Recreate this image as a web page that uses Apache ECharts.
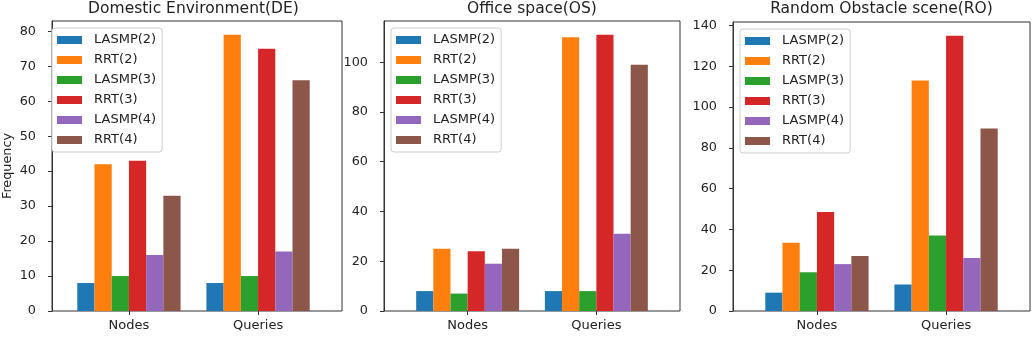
<!DOCTYPE html>
<html>
<head>
<meta charset="utf-8">
<script src="https://cdn.jsdelivr.net/npm/echarts@6/dist/echarts.min.js"></script>
<style>
  html, body { margin: 0; padding: 0; background: #fff; }
  #chart { width: 1034px; height: 341px; }
</style>
</head>
<body>
<div id="chart"></div>
<script>
const groups = ['Nodes', 'Queries'];
const seriesNames = ['LASMP(2)', 'RRT(2)', 'LASMP(3)', 'RRT(3)', 'LASMP(4)', 'RRT(4)'];
const colors = ['#1f77b4', '#ff7f0e', '#2ca02c', '#d62728', '#9467bd', '#8c564b'];

// one row per series: [Nodes, Queries]
const deValues = [[8, 8], [42, 79], [10, 10], [43, 75], [16, 17], [33, 66]];
const osValues = [[8, 8], [25, 110], [7, 8], [24, 111], [19, 31], [25, 99]];
const roValues = [[9, 13], [33.5, 113], [19, 37], [48.5, 135], [23, 26], [27, 89.5]];

const deTicks = [0, 10, 20, 30, 40, 50, 60, 70, 80];
const osTicks = [0, 20, 40, 60, 80, 100];
const roTicks = [0, 20, 40, 60, 80, 100, 120, 140];

const titles = ['Domestic Environment(DE)', 'Office space(OS)', 'Random Obstacle scene(RO)'];

const font = 'DejaVu Sans';
const ink = '#222';
const frame = '#333';

const panels = [
  {values: deValues, ticks: deTicks, left: 45, top: 21, width: 297, height: 290},
  {values: osValues, ticks: osTicks, left: 384, top: 21, width: 296, height: 290},
  {values: roValues, ticks: roTicks, left: 733, top: 22, width: 297, height: 289}
];

// x range of the matplotlib axes, in category units (centres at 0 and 1)
const xLo = -0.65, xHi = 1.65;

let chart = echarts.init(document.getElementById('chart'));

const option = {
  animation: false,
  color: colors,
  title: [],
  legend: [],
  grid: [],
  xAxis: [],
  yAxis: [],
  series: []
};

panels.forEach((p, k) => {
  const yMax = Math.max(...p.values.flat()) * 1.05;
  const unit = p.width / (xHi - xLo);
  const outer = 2 * k, inner = 2 * k + 1;

  option.title.push({
    text: titles[k],
    left: p.left + p.width / 2,
    top: 1,
    padding: 0,
    textAlign: 'center',
    textStyle: {fontFamily: font, fontSize: 15.5, fontWeight: 'normal', color: ink}
  });
  option.legend.push({
    data: seriesNames,
    orient: 'vertical',
    left: p.left + 7,
    top: p.top + 7,
    z: 10,
    icon: 'rect',
    itemWidth: 25,
    itemHeight: 8,
    itemGap: 6,
    selectedMode: false,
    backgroundColor: '#fff',
    borderColor: '#ccc',
    borderWidth: 1,
    borderRadius: 3,
    padding: [5, 6, 5, 5],
    textStyle: {fontFamily: font, fontSize: 13, color: ink, lineHeight: 14, padding: [0, 0, 0, 7]}
  });

  // outer grid: the frame and the y axis
  option.grid.push({
    left: p.left, top: p.top, width: p.width, height: p.height,
    show: true, borderColor: frame, borderWidth: 1
  });
  // inner grid: two category bands, one unit wide each
  option.grid.push({
    left: p.left + (-0.5 - xLo) * unit, top: p.top, width: 2 * unit, height: p.height
  });

  option.xAxis.push({
    type: 'value', gridIndex: outer, min: 0, max: 1, show: false
  });
  option.xAxis.push({
    type: 'category',
    gridIndex: inner,
    data: groups,
    axisLine: {show: false},
    axisTick: {show: true, alignWithLabel: true, length: 4, lineStyle: {color: frame}},
    axisLabel: {margin: 8, fontFamily: font, fontSize: 13, color: ink}
  });

  option.yAxis.push({
    type: 'value',
    gridIndex: outer,
    position: 'left',
    min: 0,
    max: yMax,
    interval: p.ticks[1] - p.ticks[0],
    name: k === 0 ? 'Frequency' : '',
    nameLocation: 'middle',
    nameRotate: 90,
    nameGap: 38,
    nameTextStyle: {fontFamily: font, fontSize: 12.8, color: ink},
    splitLine: {show: false},
    axisLine: {show: true, onZero: false, lineStyle: {color: frame}},
    axisTick: {show: true, inside: false, length: 4, lineStyle: {color: frame}},
    axisLabel: {showMaxLabel: false, margin: 16, fontFamily: font, fontSize: 12.8, color: ink}
  });
  option.yAxis.push({
    type: 'value', gridIndex: inner, min: 0, max: yMax, show: false
  });

  seriesNames.forEach((name, i) => {
    option.series.push({
      name: name,
      type: 'bar',
      xAxisIndex: inner,
      yAxisIndex: inner,
      barCategoryGap: '20%',
      barGap: '0%',
      itemStyle: {color: colors[i]},
      data: p.values[i]
    });
  });
});

chart.setOption(option);
</script>
</body>
</html>
